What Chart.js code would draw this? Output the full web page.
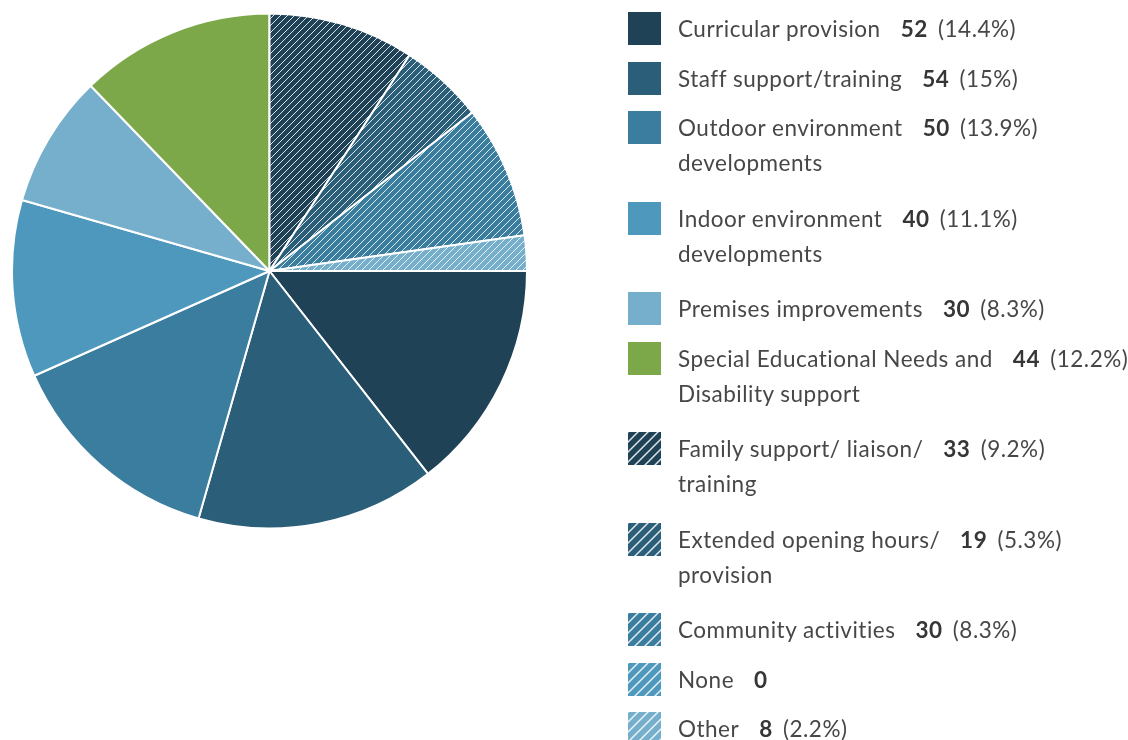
<!DOCTYPE html>
<html>
<head>
<meta charset="utf-8">
<script src="https://cdn.jsdelivr.net/npm/chart.js@4"></script>
<style>
    body { margin: 0; background: #fff; font-family: Lato, "Open Sans", sans-serif; }
    #chartBox { position: absolute; left: 11px; top: 12px; width: 517px; height: 518px; }
    #legend { position: absolute; left: 628px; top: 12px; }
    .legend-row { display: flex; align-items: flex-start; }
    .legend-row canvas { width: 33px; height: 33px; flex: none; }
    .legend-text { margin-left: 17px; margin-top: -1px; font-size: 22.5px; letter-spacing: 0.5px; line-height: 35px; color: #474747; white-space: nowrap; }
    .legend-text b { color: #363636; margin-left: 20px; margin-right: 4px; }
</style>
</head>
<body>
<div id="chartBox"><canvas id="myChart"></canvas></div>
<div id="legend"></div>
<script>
const labels = [
    ['Curricular provision'],
    ['Staff support/training'],
    ['Outdoor environment', 'developments'],
    ['Indoor environment', 'developments'],
    ['Premises improvements'],
    ['Special Educational Needs and', 'Disability support'],
    ['Family support/ liaison/', 'training'],
    ['Extended opening hours/', 'provision'],
    ['Community activities'],
    ['None'],
    ['Other']
];
const values = [52, 54, 50, 40, 30, 44, 33, 19, 30, 0, 8];
const colors = ['#1f4257', '#2b5e78', '#3a7d9e', '#4e98bd', '#76afcc', '#7da84a',
                '#1f4257', '#2b5e78', '#3a7d9e', '#4e98bd', '#76afcc'];
const hatched = [false, false, false, false, false, false, true, true, true, true, true];

function makeHatch(color, s, w) {
    const c = document.createElement('canvas');
    c.width = s; c.height = s;
    const ctx = c.getContext('2d');
    ctx.fillStyle = color;
    ctx.fillRect(0, 0, s, s);
    ctx.strokeStyle = 'rgba(255,255,255,0.85)';
    ctx.lineWidth = w;
    ctx.beginPath();
    ctx.moveTo(0, s); ctx.lineTo(s, 0);
    ctx.moveTo(-2, 2); ctx.lineTo(2, -2);
    ctx.moveTo(s - 2, s + 2); ctx.lineTo(s + 2, s - 2);
    ctx.stroke();
    return c;
}

function fillFor(i, ctx, s, w) {
    if (!hatched[i]) return colors[i];
    return ctx.createPattern(makeHatch(colors[i], s, w), 'repeat');
}

const mainCtx = document.getElementById('myChart').getContext('2d');
const total = values.reduce((a, b) => a + b, 0);

let chart = new Chart(mainCtx, {
    type: 'pie',
    data: {
        labels: labels.map(l => l.join(' ')),
        datasets: [{
            data: values,
            backgroundColor: values.map((v, i) => fillFor(i, mainCtx, 7, 1)),
            borderColor: '#ffffff',
            borderWidth: 2
        }]
    },
    options: {
        responsive: true,
        maintainAspectRatio: false,
        animation: false,
        rotation: 90,
        plugins: { legend: { display: false }, tooltip: { enabled: false } }
    }
});

// html legend
const legend = document.getElementById('legend');
labels.forEach((lines, i) => {
    const row = document.createElement('div');
    row.className = 'legend-row';
    row.style.height = (49.5 + 41 * (lines.length - 1)) + 'px';

    const box = document.createElement('canvas');
    box.width = 33; box.height = 33;
    const bctx = box.getContext('2d');
    bctx.fillStyle = fillFor(i, bctx, 10, 1.5);
    bctx.fillRect(0, 0, 33, 33);
    row.appendChild(box);

    const pct = values[i] > 0 ? ` (${parseFloat((values[i] / total * 100).toFixed(1))}%)` : '';
    const text = document.createElement('div');
    text.className = 'legend-text';
    text.innerHTML = `${lines[0]}<b>${values[i]}</b>${pct}` +
        lines.slice(1).map(l => `<br>${l}`).join('');
    row.appendChild(text);
    legend.appendChild(row);
});
</script>
</body>
</html>
